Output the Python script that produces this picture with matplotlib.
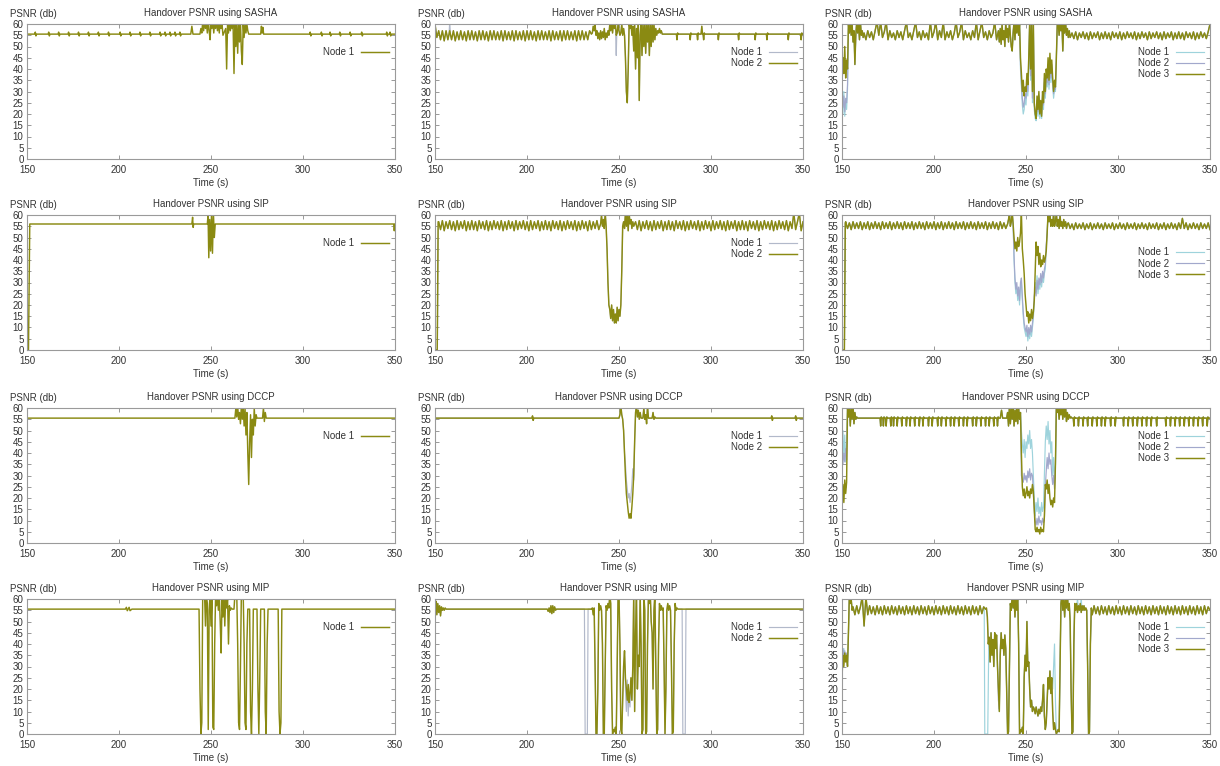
import numpy as np
import matplotlib
matplotlib.use("Agg")
import matplotlib.pyplot as plt

plt.rcParams['font.family'] = ['Liberation Sans', 'DejaVu Sans']


def even(t0, dt, vals):
    # samples taken at a fixed step starting at t0
    return [(t0 + i * dt, v) for i, v in enumerate(vals)]


def blip(times, a, b, base=55.5):
    # short glitch around the steady level at each listed time
    pts = []
    for t in times:
        pts += [(t - 0.3, base), (t, a), (t + 0.35, b), (t + 0.7, base)]
    return pts


def trace(*parts):
    pts = []
    for p in parts:
        pts += list(p)
    return sorted(pts)


def patch(base, pts):
    # replace the part of a trace covered by pts
    lo = min(t for t, _ in pts)
    hi = max(t for t, _ in pts)
    kept = [(t, v) for t, v in base if t < lo or t > hi]
    return sorted(kept + list(pts))


# ---------------- SASHA ----------------
sasha1_blips = [154.5, 161.8, 167.2, 172.6, 178.0, 183.4, 188.8, 194.3, 200.6, 206.0,
                211.4, 216.8, 222.3, 225.0, 227.7, 230.4, 233.1,
                303.9, 310.0, 314.7, 320.0, 325.6, 331.9, 345.5, 347.3]
sasha1_event = [55.5, 58, 56, 61, 57, 62, 58, 61, 56, 62,
                57, 53, 61, 58, 62, 56, 61, 58, 62, 57,
                61, 56, 62, 58, 60, 55, 56, 57, 58, 40,
                60, 56, 61, 57, 60, 58, 60, 38, 61, 50,
                60, 47, 61, 52, 61, 48, 42, 60, 54, 61,
                56, 60, 57, 55.5]
sasha1_node1 = trace([(150, 55.5), (239.0, 55.5), (239.6, 59), (240.2, 55.5), (243.5, 55.5)],
                     blip(sasha1_blips, 56.4, 54.7),
                     even(244, 0.5, sasha1_event),
                     [(270.5, 55.5), (277.0, 55.5), (277.4, 59), (277.8, 56), (278.2, 58.5),
                      (278.6, 55.5), (350, 55.5)])

sasha2_band = [60, 54, 57, 53, 57, 52.5, 57, 53, 57, 53,
               57, 52.5, 56.5, 53, 57, 53, 56.5, 52.5, 57, 53,
               57, 53, 56.5, 52.5, 57, 53, 57, 53, 56.5, 52.5,
               57, 53, 57, 53, 56.5, 53, 57, 52.5, 57, 53,
               56.5, 53, 57, 52.5, 57, 53, 56.5, 53, 57, 52.5,
               57, 53, 57, 53, 56.5, 52.5, 57, 53, 57, 53,
               56.5, 53, 57, 52.5, 57, 53, 56.5, 53, 57, 52.5,
               57, 53, 57, 53, 56.5, 53, 57, 52.5, 57, 53,
               57, 53, 56.5, 53, 57]
sasha2_event = [55.5, 56, 59, 57, 59.5, 55, 57, 53.5, 56, 53,
                57, 53.5, 56.5, 54, 58, 53, 56, 54, 57, 55,
                60, 57, 61, 56, 61, 58, 61, 55, 56, 60,
                57, 55, 56, 60, 55, 58, 55, 45, 30, 25,
                40, 60, 58, 61, 55, 59, 48, 60, 40, 58,
                45, 60, 26, 55, 61, 46, 60, 50, 61, 47,
                60, 52, 61, 46, 60, 50, 61, 52, 60, 53,
                58, 55, 57, 56, 58, 56, 57, 55.5, 55.5]
sasha2_dips = [281.5, 288.7, 292.7, 296.0, 304.0, 315.0, 324.0, 330.4, 342.0, 349.0]
sasha2_node2 = trace(even(150, 1.0, sasha2_band),
                     even(235, 0.5, sasha2_event),
                     blip(sasha2_dips, 53, 56),
                     [(294.6, 55.5), (295.0, 59), (295.4, 55.5), (350, 55.5)])
sasha2_node1 = patch(patch(sasha2_node2, [(157.6, 55), (158.0, 61), (158.4, 55)]),
                     [(248.2, 55), (248.5, 46), (248.8, 56)])

sasha3_start3 = [33, 45, 38, 50, 36, 44, 40, 60, 56, 61,
                 55, 60, 52, 57, 42, 55, 61, 56, 60, 53,
                 61, 55, 57, 54]
sasha3_band = [56, 53, 57, 54, 56.5, 53, 57, 61, 55, 61,
               54, 56.5, 61, 53, 57, 54, 56, 53, 57, 54,
               56.5, 53, 57, 61, 54, 56, 53, 57, 61, 54,
               56.5, 53, 57, 54, 56, 53, 61, 54, 56.5, 61,
               53, 57, 54, 61, 53, 56.5, 54, 57, 53, 56,
               61, 54, 56.5, 61, 53, 57, 54, 56, 53, 57,
               54, 61, 53, 57, 61, 54, 56.5, 53, 57, 54,
               56, 61, 53, 57]
sasha3_mid = [52, 58, 51, 60, 53, 57, 50, 61, 54, 58,
              52, 61, 55, 50, 48, 56, 61, 53, 61, 56, 61]
sasha3_event3 = [55, 60, 45, 38, 30, 35, 28, 32, 30, 38,
                 33, 45, 61, 40, 61, 30, 61, 25, 20, 18,
                 28, 22, 30, 20, 26, 19, 30, 25, 38, 30,
                 40, 36, 45, 35, 47, 38, 44, 36, 30, 35,
                 32, 45, 60, 61, 55, 61, 57, 61, 48, 60,
                 56, 61, 55, 58, 54, 57, 54]
sasha3_tail = [56, 53.5, 56.5, 53, 56, 54, 56.5, 53.5, 56, 53,
               56.5, 53.5, 56, 54, 56.5, 53, 56, 53.5, 56.5, 53.5,
               56, 53, 56.5, 54, 56, 53.5, 56.5, 53, 56, 53.5,
               56.5, 54, 56, 53.5, 56.5, 53, 56, 53.5, 56.5, 54,
               56, 53, 56.5, 53.5, 56, 54, 56.5, 53.5, 56, 53,
               56.5, 53.5, 56, 54, 56.5, 53, 56, 53.5, 56.5, 53.5,
               56, 53, 56.5, 54, 56, 53.5, 56.5, 53, 56, 53.5,
               56.5, 54, 56, 53.5, 56.5, 60]
sasha3_start1 = [28, 20, 30, 19, 26, 22, 31]
sasha3_start2 = [30, 23, 28, 21, 27, 25, 33]
sasha3_event1 = [40, 32, 24, 20, 22, 27, 24, 32, 28, 40,
                 61, 35, 61, 25, 60, 22, 18, 17, 24, 19,
                 26, 18, 22, 18, 27, 22, 34, 27, 36, 32,
                 40, 31, 44, 34, 40, 32, 27, 31, 30]
sasha3_event2 = [42, 34, 27, 23, 25, 29, 27, 34, 30, 42,
                 61, 37, 61, 27, 60, 24, 20, 19, 26, 21,
                 28, 20, 24, 20, 29, 24, 36, 29, 38, 34,
                 42, 33, 45, 36, 42, 34, 29, 33, 31]
sasha3_node3 = trace(even(150, 0.5, sasha3_start3), even(162, 1.0, sasha3_band),
                     even(235.5, 0.5, sasha3_mid), even(246, 0.5, sasha3_event3),
                     even(275, 1.0, sasha3_tail))
sasha3_node1 = patch(patch(sasha3_node3, even(150, 0.5, sasha3_start1)),
                     even(247, 0.5, sasha3_event1))
sasha3_node2 = patch(patch(sasha3_node3, even(150, 0.5, sasha3_start2)),
                     even(247, 0.5, sasha3_event2))

# ---------------- SIP ----------------
sip1_node1 = [(150, 0), (150.8, 0), (151.5, 56), (239.6, 56), (240.0, 59), (240.3, 54.5),
              (240.6, 56), (248.0, 56), (248.4, 60), (248.8, 41), (249.3, 58), (249.8, 44),
              (250.3, 61), (250.8, 43), (251.3, 61), (251.8, 50), (252.3, 56), (349.3, 56),
              (349.6, 53), (350, 56)]

sip2_band = [57, 53.5, 57.5, 53, 57, 54, 57.5, 53.5, 57, 53,
             57.5, 53.5, 57, 54, 57.5, 53, 57, 53.5, 57.5, 53.5,
             57, 53, 57.5, 54, 57, 53.5, 57.5, 53, 57, 53.5,
             57.5, 54, 57, 53.5, 57.5, 53, 57, 53.5, 57.5, 54,
             57, 53, 57.5, 53.5, 57, 54, 57.5, 53.5, 57, 53,
             57.5, 53.5, 57, 54, 57.5, 53, 57, 53.5, 57.5, 53.5,
             57, 53, 57.5, 54, 57, 53.5, 57.5, 53, 57, 53.5,
             57.5, 54, 57, 53.5, 57.5, 53, 57, 53.5, 57.5, 54,
             57, 53, 57.5, 53.5, 57, 54, 57.5, 53.5]
sip2_event = [56, 60, 55, 58, 54, 61, 55, 45, 30, 20,
              18, 14, 20, 13, 18, 12, 16, 12, 19, 13,
              18, 15, 20, 35, 55, 57, 54, 61, 55, 60,
              53, 61, 56, 58, 54, 57, 55]
sip2_tail = [57, 53.5, 57.5, 53, 57, 54, 57.5, 53.5, 57, 53,
             57.5, 53.5, 57, 54, 57.5, 53, 57, 53.5, 57.5, 53.5,
             57, 53, 57.5, 54, 57, 53.5, 57.5, 53, 57, 53.5,
             57.5, 54, 57, 53.5, 57.5, 53, 57, 53.5, 57.5, 54,
             57, 53, 57.5, 53.5, 57, 54, 57.5, 53.5, 57, 53,
             57.5, 53.5, 57, 54, 57.5, 53, 57, 53.5, 57.5, 53.5,
             57, 53, 57.5, 54, 57, 53.5, 57.5, 53, 57, 53.5,
             57.5, 54, 57, 53.5, 57.5, 53, 57, 53.5, 57.5, 54,
             57, 53.5, 57.5, 53, 57, 54, 61, 53.5, 57, 61,
             53, 57]
sip2_node2 = trace([(150, 0), (151.2, 0), (151.7, 57)], even(152, 1.0, sip2_band),
                   even(240, 0.5, sip2_event), even(259, 1.0, sip2_tail))
sip2_node1 = patch(sip2_node2, [(150, 0), (151.3, 0), (151.8, 56)])

sip3_band = [57, 54, 56.5, 53.5, 57, 54, 56.5, 54, 57, 53.5,
             56.5, 54, 57, 53.5, 56.5, 54, 57, 54, 56.5, 53.5,
             57, 54, 56.5, 54, 57, 53.5, 56.5, 54, 57, 54,
             56.5, 53.5, 57, 54, 56.5, 54, 57, 53.5, 56.5, 54,
             57, 54, 56.5, 53.5, 57, 54, 56.5, 54, 57, 53.5,
             56.5, 54, 57, 53.5, 56.5, 54, 57, 54, 56.5, 53.5,
             57, 54, 56.5, 54, 57, 53.5, 56.5, 54, 57, 54,
             56.5, 53.5, 57, 54, 56.5, 54, 57, 53.5, 56.5, 54,
             57, 54, 56.5, 53.5, 57, 54, 56.5, 54]
sip3_event3 = [56, 58, 61, 55, 57, 61, 56, 50, 45, 48,
               44, 50, 46, 48, 52, 61, 45, 40, 34, 25,
               20, 15, 17, 12, 16, 13, 18, 14, 17, 22,
               35, 48, 42, 46, 38, 43, 37, 40, 38, 42,
               39, 41, 44, 52, 61, 57, 61, 55, 58, 55,
               61, 55, 57, 61, 55, 58, 54, 60, 55, 57,
               54, 58, 55, 57, 54, 56]
sip3_event1 = [40, 30, 25, 28, 22, 26, 20, 28, 30, 22,
               15, 10, 8, 6, 9, 4, 8, 5, 9, 6,
               10, 14, 22, 30, 26, 33, 25, 30, 27, 32,
               28, 33, 30, 34, 36, 45]
sip3_event2 = [42, 32, 27, 30, 24, 28, 22, 30, 32, 24,
               17, 12, 10, 8, 11, 6, 10, 7, 11, 8,
               12, 16, 24, 28, 24, 31, 27, 32, 29, 34,
               30, 35, 32, 36, 38, 47]
sip3_tail = [56.5, 54, 56, 53.5, 56.5, 54, 56, 54, 56.5, 53.5,
             56, 54, 56.5, 53.5, 56, 54, 56.5, 54, 56, 53.5,
             56.5, 54, 56, 54, 56.5, 53.5, 56, 54, 56.5, 54,
             56, 53.5, 56.5, 54, 56, 54, 56.5, 53.5, 56, 54,
             56.5, 54, 56, 53.5, 56.5, 54, 56, 54, 56.5, 53.5,
             56, 54, 56.5, 53.5, 56, 54, 56.5, 54, 56, 53.5,
             56.5, 54, 58.5, 54, 56.5, 53.5, 56, 54, 56.5, 54,
             56, 53.5, 56.5, 54, 56, 54, 56.5, 53.5]
sip3_node3 = trace([(150, 0), (151.3, 0), (151.8, 56.5)], even(152, 1.0, sip3_band),
                   even(240, 0.5, sip3_event3), even(273, 1.0, sip3_tail))
sip3_node1 = patch(sip3_node3, even(243.5, 0.5, sip3_event1))
sip3_node2 = patch(sip3_node3, even(243.5, 0.5, sip3_event2))

# ---------------- DCCP ----------------
dccp1_event = [55.5, 60, 56, 61, 55, 58, 53, 61, 55, 60,
               52, 60, 48, 58, 40, 26, 45, 57, 38, 55,
               48, 60, 52, 57, 55.5]
dccp1_node1 = trace([(150, 55.5)], even(263, 0.5, dccp1_event),
                    [(278.0, 55.5), (278.5, 60), (279.0, 54), (279.5, 58), (280.0, 55.5),
                     (350, 55.5)])

dccp2_event = [55.5, 57, 61, 57, 55, 50, 40, 30, 22, 18,
               14, 11, 13, 11, 16, 22, 30, 45, 58, 61,
               56, 59, 55, 58, 55.5]
dccp2_node2 = trace([(150, 55.5)], blip([203.0, 333.0, 346.0], 56.5, 54.5),
                    even(250, 0.5, dccp2_event),
                    [(263.0, 55.5), (263.5, 60), (264.0, 55), (264.5, 57), (265.0, 53),
                     (265.5, 61), (266.0, 55.5), (268.0, 55.5), (268.5, 58), (269.0, 55),
                     (269.5, 56), (270.0, 55.5), (350, 55.5)])
dccp2_node1 = patch(dccp2_node2, even(253.5, 0.5, [35, 28, 24, 20, 22, 18, 21, 26, 33, 28, 45]))

dccp3_start3 = [20, 26, 18, 28, 22, 27, 60, 56, 61, 52,
                60, 55, 61, 53, 58, 55, 56, 55.5]
dccp3_dips = [171, 172.5, 174, 176.5, 178, 180, 182.5, 185, 187, 189.5,
              192, 194, 197, 199, 202, 204, 206.5, 209, 211, 213.5,
              216, 218, 221, 223, 225.5, 228, 230, 232.5, 234.5,
              276, 278.5, 281, 283.5, 286, 288.5, 291, 293, 296, 298.5,
              303, 305.5, 308, 310.5, 313, 315.5, 318, 321, 326, 328.5,
              331, 333.5, 336, 338.5, 341, 343.5, 346, 348.5]
dccp3_event3 = [55.5, 58, 52, 61, 53, 60, 55, 61, 52, 59,
                54, 61, 53, 60, 55, 58, 40, 25, 21, 24,
                20, 22, 25, 21, 23, 20, 24, 22, 26, 23,
                15, 6, 5, 7, 5, 6, 4, 7, 5, 6,
                5, 12, 26, 24, 28, 22, 26, 20, 17, 19,
                16, 20, 18, 35, 61, 58, 61, 55, 60, 57,
                61, 55, 60, 56, 61, 54, 58, 55, 57, 55.5,
                56, 55.5]
dccp3_event1 = [50, 44, 40, 46, 38, 45, 42, 48, 44, 50,
                42, 46, 40, 30, 20, 12, 18, 14, 20, 13,
                16, 12, 18, 14, 16, 30, 45, 52, 46, 54,
                44, 50, 40, 45, 30, 38, 28]
dccp3_event2 = [30, 28, 27, 31, 28, 30, 27, 32, 29, 33,
                28, 31, 30, 22, 14, 10, 8, 11, 8, 12,
                9, 10, 8, 11, 9, 11, 25, 32, 38, 33,
                40, 35, 37, 30, 26, 30, 24]
dccp3_node3 = trace(even(150, 0.5, dccp3_start3), [(159, 55.5)],
                    blip(dccp3_dips, 52, 56),
                    [(236.0, 55.5), (236.7, 59), (237.3, 55.5)],
                    even(239.5, 0.5, dccp3_event3), [(350, 55.5)])
dccp3_node1 = patch(patch(dccp3_node3, even(150, 0.5, [35, 50, 38, 48, 36, 45])),
                    even(247.5, 0.5, dccp3_event1))
dccp3_node2 = patch(patch(dccp3_node3, even(150, 0.5, [38, 35, 40, 36, 42, 37])),
                    even(247.5, 0.5, dccp3_event2))

# ---------------- MIP ----------------
mip1_node1 = [(150, 55.5), (203.5, 55.5), (204.0, 56.3), (204.5, 54.8), (205.5, 56.3),
              (206.0, 54.8), (207.0, 55.5), (243.5, 55.5),
              (244, 20), (244.5, 0), (245, 5), (245.5, 62), (246, 60), (246.5, 62), (247, 48),
              (247.5, 62), (248, 58), (248.5, 2), (249, 55), (249.5, 62), (250, 48), (250.5, 62),
              (251, 3), (251.5, 2), (252, 40), (252.5, 62), (253, 57), (253.5, 62), (254, 55),
              (254.5, 62), (255, 50), (255.5, 36), (256, 60), (256.5, 52), (257, 62), (257.5, 48),
              (258, 62), (258.5, 56), (259, 60), (259.5, 40), (260, 57), (260.5, 55), (261, 56),
              (261.5, 55.5), (262.5, 55.5), (263, 62), (263.5, 60), (264, 62), (264.5, 40),
              (265, 5), (265.5, 2), (266, 30), (266.5, 62), (267, 60), (267.5, 62), (268, 40),
              (268.5, 5), (269, 2), (269.5, 40), (270, 55.5), (271, 55.5), (271.5, 10), (272, 0),
              (272.5, 20), (273, 55.5), (275, 55.5), (275.5, 20), (276, 0), (276.5, 25),
              (277, 55.5), (279, 55.5), (279.5, 10), (280, 0), (280.5, 40), (281, 55.5),
              (286.5, 55.5), (287, 10), (287.5, 0), (288, 5), (288.5, 55.5), (350, 55.5)]

mip2_start = [56, 59, 53, 58, 54, 57, 52.5, 56.5, 55, 56, 55, 56, 55.5, 55.5]
mip2_wobble = [54.5, 56, 54, 57, 53.5, 57, 54, 56.5, 55, 55.5]
mip2_event = [55.5, 56, 53, 56, 30, 0, 0, 20, 58, 55,
              57, 55, 40, 0, 0, 30, 57, 55, 58, 56,
              62, 58, 20, 0, 2, 1, 3, 0, 30, 62,
              62, 40, 2, 0, 15, 30, 37, 25, 20, 15,
              22, 14, 18, 25, 15, 30, 62, 10, 45, 62,
              20, 35, 30, 62, 40, 0, 2, 62, 55, 0,
              1, 40, 62, 58, 62, 50, 45, 20, 55, 62,
              30, 0, 2, 40, 58, 55, 57, 55, 56, 30,
              0, 20, 55, 58, 55, 57, 55, 30, 0, 1,
              40, 58, 55, 56, 55.5]
mip2_node2 = trace(even(150, 0.5, mip2_start), [(211, 55.5)], even(211.5, 0.5, mip2_wobble),
                   [(234.5, 55.5)], even(235, 0.5, mip2_event), [(350, 55.5)])
mip2_node1 = patch(patch(patch(mip2_node2, [(231.2, 55.5), (231.6, 0), (232.8, 0), (233.2, 55.5)]),
                         [(284.3, 55.5), (284.7, 0), (286.0, 0), (286.4, 55.5)]),
                   even(253.5, 0.5, [20, 10, 24, 8, 18, 12]))

mip3_start3 = [25, 35, 30, 36, 32, 35, 30, 45, 62, 58, 60, 55]
mip3_band = [56.5, 53, 57, 53.5, 56.5, 61, 48, 61, 53, 57,
             53.5, 56.5, 53, 57, 53.5, 56.5, 53, 57, 53.5, 56.5,
             53, 57, 53.5, 56.5, 53, 57, 53.5, 56.5, 53, 57,
             53.5, 56.5, 53, 57, 53.5, 56.5, 53, 57, 53.5, 56.5,
             53, 57, 53.5, 56.5, 53, 57, 53.5, 56.5, 53, 57,
             53.5, 56.5, 53, 57, 53.5, 56.5, 53, 57, 53.5, 56.5,
             53, 57, 53.5, 56.5, 53, 57, 53.5, 56.5, 53, 57,
             53.5, 56.5]
mip3_event3 = [55.5, 56, 52, 40, 43, 32, 45, 35, 42, 30,
               45, 38, 44, 30, 20, 10, 35, 45, 38, 42,
               35, 44, 38, 20, 0, 1, 30, 58, 55, 62,
               56, 60, 52, 61, 55, 62, 40, 0, 2, 1,
               3, 0, 25, 35, 28, 50, 30, 32, 20, 12,
               15, 10, 12, 11, 9, 12, 10, 8, 11, 9,
               12, 10, 15, 22, 8, 2, 5, 15, 25, 20,
               28, 18, 25, 10, 2, 5, 2, 0, 1, 2,
               1, 30, 58, 62, 55, 60, 52, 61, 56, 62,
               55, 58, 50, 20, 0, 1, 40, 58, 55, 58,
               54, 57, 55, 58, 54, 57, 55, 57, 55, 56,
               55, 30, 0, 1, 40, 56]
mip3_tail = [53, 57, 53.5, 56.5, 53, 57, 53.5, 56.5, 53, 57,
             53.5, 56.5, 53, 57, 53.5, 56.5, 53, 57, 53.5, 56.5,
             53, 57, 53.5, 56.5, 53, 57, 53.5, 56.5, 53, 57,
             53.5, 56.5, 53, 57, 53.5, 56.5, 53, 57, 53.5, 56.5,
             53, 57, 53.5, 56.5, 53, 57, 53.5, 56.5, 53, 57,
             53.5, 56.5, 53, 57, 53.5, 56.5, 53, 57, 53.5, 56.5,
             53, 57, 53.5, 56.5, 55]
mip3_node3 = trace(even(150, 0.5, mip3_start3), even(156, 1.0, mip3_band),
                   even(228, 0.5, mip3_event3), even(286, 1.0, mip3_tail))
mip3_node1 = patch(patch(patch(patch(mip3_node3, even(150, 0.5, [40, 34, 38, 33, 36, 34])),
                               [(227.3, 55.5), (227.6, 0), (229.2, 0), (229.8, 42)]),
                         even(264.5, 0.5, [20, 30, 40, 15])),
                   [(277.6, 56), (278.0, 61), (278.4, 55), (279.6, 56), (280.0, 61), (280.4, 55)])
mip3_node2 = patch(patch(mip3_node3, even(150, 0.5, [30, 38, 33, 37, 34, 36])),
                   even(234.5, 0.5, [32, 15, 11, 38]))

# ---------------- layout ----------------
OLIVE = '#8a8a12'
GRAY = '#b2b9ca'
CYAN = '#9ed3dc'
BLUEGRAY = '#a2a8cc'


def nodes(*traces):
    if len(traces) == 1:
        styles = [(OLIVE, 1.05)]
    elif len(traces) == 2:
        styles = [(GRAY, 0.85), (OLIVE, 1.05)]
    else:
        styles = [(CYAN, 0.85), (BLUEGRAY, 0.85), (OLIVE, 1.05)]
    return [('Node %d' % (i + 1), tr, c, lw) for i, (tr, (c, lw)) in enumerate(zip(traces, styles))]


rows = [
    ('SASHA', [nodes(sasha1_node1), nodes(sasha2_node1, sasha2_node2),
               nodes(sasha3_node1, sasha3_node2, sasha3_node3)]),
    ('SIP', [nodes(sip1_node1), nodes(sip2_node1, sip2_node2),
             nodes(sip3_node1, sip3_node2, sip3_node3)]),
    ('DCCP', [nodes(dccp1_node1), nodes(dccp2_node1, dccp2_node2),
              nodes(dccp3_node1, dccp3_node2, dccp3_node3)]),
    ('MIP', [nodes(mip1_node1), nodes(mip2_node1, mip2_node2),
             nodes(mip3_node1, mip3_node2, mip3_node3)]),
]

W, H = 1220, 766
lefts = [27, 435, 842]
tops = [24, 215, 408, 599]
aw, ah = 368, 135
TXT = '#333333'

fig = plt.figure(figsize=(W / 100, H / 100), dpi=100)

for r, (name, panels) in enumerate(rows):
    for c, series in enumerate(panels):
        ax = fig.add_axes([lefts[c] / W, 1 - (tops[r] + ah) / H, aw / W, ah / H])
        handles = []
        for label, tr, color, lw in series:
            arr = np.array(tr, dtype=float)
            ln, = ax.plot(arr[:, 0], arr[:, 1], color=color, lw=lw, label=label)
            handles.append(ln)
        ax.set_xlim(150, 350)
        ax.set_ylim(0, 60)
        ax.set_xticks([150, 200, 250, 300, 350])
        ax.set_yticks(np.arange(0, 61, 5))
        ax.tick_params(direction='in', length=3, width=0.6, color='#888888',
                       labelsize=7, labelcolor=TXT, top=True, right=True)
        ax.tick_params(axis='y', pad=2.5)
        ax.tick_params(axis='x', pad=4)
        for sp in ax.spines.values():
            sp.set_color('#9a9a9a')
            sp.set_linewidth(0.8)
        ax.text(0.5, 1.08, 'Handover PSNR using %s' % name, transform=ax.transAxes,
                ha='center', va='center', fontsize=7, color=TXT)
        ax.text(-0.046, 1.075, 'PSNR (db)', transform=ax.transAxes,
                ha='left', va='center', fontsize=7, color=TXT)
        ax.text(0.5, -0.18, 'Time (s)', transform=ax.transAxes,
                ha='center', va='center', fontsize=7, color=TXT)
        ytop = 0.76 if (r == 1 and c == 2) else 0.83
        ax.legend(handles=handles, loc='upper right', bbox_to_anchor=(0.985, ytop),
                  frameon=False, fontsize=7, markerfirst=False, handlelength=2.9,
                  handletextpad=0.7, labelspacing=0.12, borderpad=0, borderaxespad=0,
                  labelcolor=TXT)

fig.savefig('out.png', dpi=100)
